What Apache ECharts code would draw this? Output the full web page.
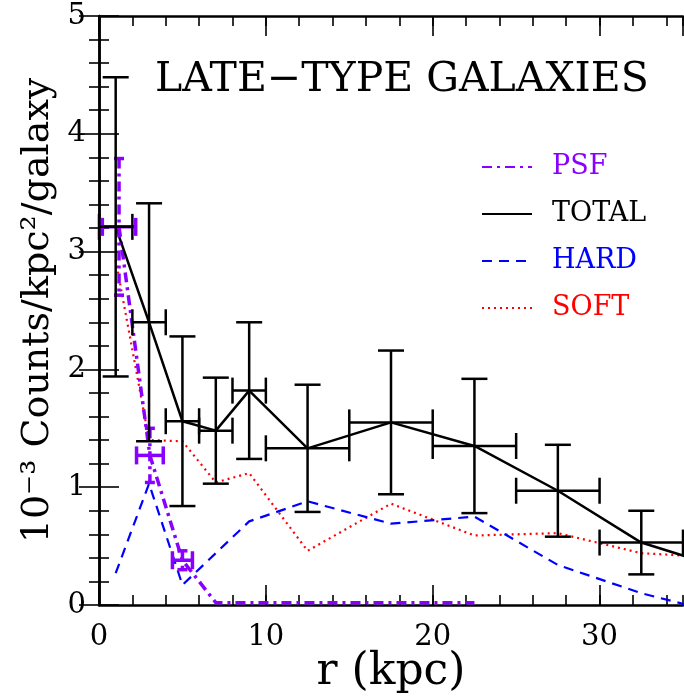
<!DOCTYPE html>
<html>
<head>
<meta charset="utf-8">
<title>Late-type galaxies</title>
<script src="https://cdn.jsdelivr.net/npm/echarts@6/dist/echarts.min.js"></script>
<style>
    html, body { margin: 0; padding: 0; background: #fff; }
    #chart { width: 684px; height: 698px; }
</style>
</head>
<body>
<div id="chart"></div>
<script>
    // radial bins (kpc) and half widths
    var binR    = [1, 3, 5, 7, 9, 12.5, 17.5, 22.5, 27.5, 32.5, 37.5];
    var binHalf = [1, 1, 1, 1, 1, 2.5, 2.5, 2.5, 2.5, 2.5];
    // surface density, 10^-3 counts/kpc^2/galaxy
    var total    = [3.21, 2.40, 1.56, 1.48, 1.82, 1.33, 1.55, 1.35, 0.97, 0.53, 0.31];
    var totalErr = [1.27, 1.01, 0.72, 0.45, 0.58, 0.54, 0.61, 0.57, 0.39, 0.27];
    var hard = [0.27, 1.03, 0.17, 0.44, 0.71, 0.88, 0.69, 0.75, 0.34, 0.10, -0.08];
    var soft = [2.93, 1.40, 1.39, 1.04, 1.12, 0.46, 0.86, 0.59, 0.61, 0.44, 0.40];
    // PSF profile
    var psfR    = [1.2, 3.05, 5.0, 7, 9, 12.5, 17.5, 22.5];
    var psf     = [3.21, 1.27, 0.38, 0.02, 0.02, 0.02, 0.02, 0.02];
    var psfHalf = [1.0, 0.8, 0.6];
    var psfErr  = [0.58, 0.23, 0.08];

    var xTicks = [0, 10, 20, 30];
    var yTicks = [0, 1, 2, 3, 4, 5];

    var FONT = 'DejaVu Serif';
    var PURPLE = '#8a00ff';
    var DASHDOT = [10, 5, 3, 5];

    function pairs(xs, ys) {
        return ys.map(function (y, i) { return [xs[i], y]; });
    }

    // error crosses: [x, y, xHalf, yErr]
    function crossRenderer(color, width, vDash, vCap, hCap) {
        return function (params, api) {
            var x = api.value(0), y = api.value(1), dx = api.value(2), dy = api.value(3);
            var c = api.coord([x, y]);
            var top = api.coord([x, y + dy])[1];
            var bot = api.coord([x, y - dy])[1];
            var lft = api.coord([x - dx, y])[0];
            var rgt = api.coord([x + dx, y])[0];
            var st = { stroke: color, lineWidth: width, fill: null };
            var vst = { stroke: color, lineWidth: width, fill: null, lineDash: vDash };
            return {
                type: 'group',
                children: [
                    { type: 'line', shape: { x1: c[0], y1: top, x2: c[0], y2: bot }, style: vst },
                    { type: 'line', shape: { x1: c[0] - vCap, y1: top, x2: c[0] + vCap, y2: top }, style: st },
                    { type: 'line', shape: { x1: c[0] - vCap, y1: bot, x2: c[0] + vCap, y2: bot }, style: st },
                    { type: 'line', shape: { x1: lft, y1: c[1], x2: rgt, y2: c[1] }, style: st },
                    { type: 'line', shape: { x1: lft, y1: c[1] - hCap, x2: lft, y2: c[1] + hCap }, style: st },
                    { type: 'line', shape: { x1: rgt, y1: c[1] - hCap, x2: rgt, y2: c[1] + hCap }, style: st }
                ]
            };
        };
    }

    function xAxisDef(pos, interval, tickLen, withLabels) {
        return {
            type: 'value', position: pos, min: 0, max: 35, interval: interval,
            axisLine: { show: tickLen > 15, lineStyle: { color: '#000', width: 2.5 } },
            axisTick: { inside: true, length: tickLen, lineStyle: { color: '#000', width: 1.6 } },
            splitLine: { show: false },
            axisLabel: withLabels ? {
                show: true, margin: 18, color: '#000', fontFamily: FONT, fontSize: 29,
                showMaxLabel: false,
                formatter: function (v) { return xTicks.indexOf(v) >= 0 ? String(v) : ''; }
            } : { show: false },
            name: withLabels ? 'r (kpc)' : '',
            nameLocation: 'middle', nameGap: 46, nameMoveOverlap: false,
            nameTextStyle: { color: '#000', fontFamily: FONT, fontSize: 44 }
        };
    }

    function yAxisDef(pos, withLabels) {
        return {
            type: 'value', position: pos, min: 0, max: 5, interval: 1,
            axisLine: { show: true, lineStyle: { color: '#000', width: 2.5 } },
            axisTick: { inside: true, length: 20, lineStyle: { color: '#000', width: 1.6 } },
            minorTick: { show: true, splitNumber: 5, length: 10, lineStyle: { color: '#000', width: 1.6 } },
            splitLine: { show: false },
            axisLabel: withLabels ? {
                show: true, margin: 13, color: '#000', fontFamily: FONT, fontSize: 29,
                formatter: function (v) { return yTicks.indexOf(v) >= 0 ? String(v) : ''; }
            } : { show: false },
            name: withLabels ? '10\u207B\u00B3 Counts/kpc\u00B2/galaxy' : '',
            nameLocation: 'middle', nameGap: 42,
            nameTextStyle: { color: '#000', fontFamily: FONT, fontSize: 38 }
        };
    }

    var chart = echarts.init(document.getElementById('chart'));
    chart.setOption({
        animation: false,
        backgroundColor: '#fff',
        title: {
            text: 'LATE\u2212TYPE GALAXIES',
            left: 150, top: 55,
            textStyle: { color: '#000', fontFamily: FONT, fontSize: 41, fontWeight: 'normal' }
        },
        legend: {
            orient: 'vertical',
            left: 476, top: 147,
            itemWidth: 50, itemHeight: 30, itemGap: 17,
            itemStyle: { opacity: 0 },
            textStyle: { fontFamily: FONT, fontSize: 27, lineHeight: 30, padding: [0, 0, 0, 15] },
            data: [
                { name: 'PSF', textStyle: { color: PURPLE } },
                { name: 'TOTAL', textStyle: { color: '#000' } },
                { name: 'HARD', textStyle: { color: '#0000ff' } },
                { name: 'SOFT', textStyle: { color: '#ff0000' } }
            ]
        },
        grid: { left: 99, right: 1, top: 16, bottom: 93, containLabel: false, outerBoundsMode: 'none' },
        xAxis: [
            xAxisDef('bottom', 10, 20, true),
            xAxisDef('bottom', 2, 10, false),
            xAxisDef('top', 10, 20, false),
            xAxisDef('top', 2, 10, false)
        ],
        yAxis: [yAxisDef('left', true), yAxisDef('right', false)],
        series: [
            {
                name: 'SOFT', type: 'line', symbol: 'none',
                data: pairs(binR, soft),
                lineStyle: { color: '#ff0000', width: 2.2, type: [2, 4] },
                itemStyle: { color: '#ff0000' }
            },
            {
                name: 'HARD', type: 'line', symbol: 'none',
                data: pairs(binR, hard),
                lineStyle: { color: '#0000ff', width: 2.2, type: [10, 7] },
                itemStyle: { color: '#0000ff' }
            },
            {
                name: 'PSF', type: 'line', symbol: 'none',
                data: pairs(psfR, psf),
                lineStyle: { color: PURPLE, width: 3.5, type: DASHDOT },
                itemStyle: { color: PURPLE }
            },
            {
                name: 'TOTAL', type: 'line', symbol: 'none',
                data: pairs(binR, total),
                lineStyle: { color: '#000', width: 2.5, type: 'solid' },
                itemStyle: { color: '#000' }
            },
            {
                name: 'totalErr', type: 'custom',
                renderItem: crossRenderer('#000', 2.5, null, 13, 13),
                data: totalErr.map(function (e, i) { return [binR[i], total[i], binHalf[i], e]; }),
                z: 5
            },
            {
                name: 'psfErr', type: 'custom',
                renderItem: crossRenderer(PURPLE, 3.5, DASHDOT, 5, 9),
                data: psfErr.map(function (e, i) { return [psfR[i], psf[i], psfHalf[i], e]; }),
                z: 4
            }
        ]
    });
</script>
</body>
</html>
